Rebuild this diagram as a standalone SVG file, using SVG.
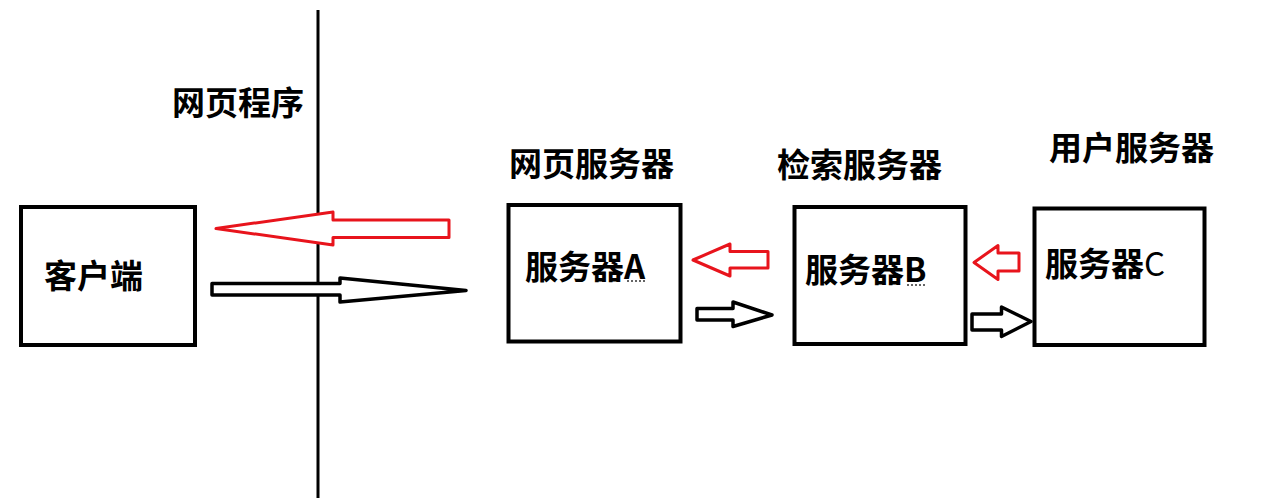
<svg xmlns="http://www.w3.org/2000/svg" width="1280" height="498" viewBox="0 0 1280 498">
<style>
.box{fill:#fff;stroke:#000;stroke-width:4}
.t{font-family:"Noto Sans CJK SC","Noto Sans",sans-serif;font-weight:bold;font-size:33px;fill:#000}
.red{fill:#fff;stroke:#e8141c;stroke-width:3;stroke-linejoin:round}
.blk{fill:#fff;stroke:#000;stroke-width:3.5;stroke-linejoin:round}
.dot{stroke:#333;stroke-width:1.5;stroke-dasharray:2 2}
</style>
<rect width="1280" height="498" fill="#fff"/>
<g id="client">
<rect class="box" x="21" y="207" width="174" height="138"/>
<text class="t" x="44" y="288">客户端</text>
</g>
<g id="serverA">
<text class="t" x="509" y="176">网页服务器</text>
<rect class="box" x="508.5" y="205" width="172" height="136.5"/>
<text class="t" x="525" y="279">服务器A</text>
<line class="dot" x1="627" y1="281" x2="646" y2="281"/>
</g>
<g id="serverB">
<text class="t" x="777" y="177">检索服务器</text>
<rect class="box" x="794.5" y="207" width="171" height="137"/>
<text class="t" x="805" y="282">服务器B</text>
<line class="dot" x1="907" y1="285" x2="925" y2="285"/>
</g>
<g id="serverC">
<text class="t" x="1049" y="160">用户服务器</text>
<rect class="box" x="1034.5" y="208.5" width="170" height="136.5"/>
<text class="t" x="1045" y="276">服务器<tspan font-weight="normal">C</tspan></text>
</g>
<g id="connectors">
<line x1="318" y1="10" x2="318" y2="498" stroke="#000" stroke-width="3"/>
<polygon class="red" points="216,228.5 333,212 333,220 449,220 449,237.5 333,237.5 333,245"/>
<polygon class="blk" points="212,283.5 340,283.5 340,278 466,290.5 340,302 340,295 212,295"/>
<polygon class="red" points="693,260 730,244 730,251.5 768,251.5 768,268 730,268 730,276"/>
<polygon class="blk" points="697,308.5 733,308.5 733,302 772,315 733,326.5 733,320 697,320"/>
<polygon class="red" points="974,262.5 998,245.5 998,253 1019,253 1019,271 998,271 998,279.5"/>
<polygon class="blk" points="972,314 1001.5,314 1001.5,307 1031,321.5 1001.5,336.5 1001.5,330 972,330"/>
</g>
<g id="label-web">
<text class="t" x="172" y="115">网页程序</text>
</g>
</svg>
